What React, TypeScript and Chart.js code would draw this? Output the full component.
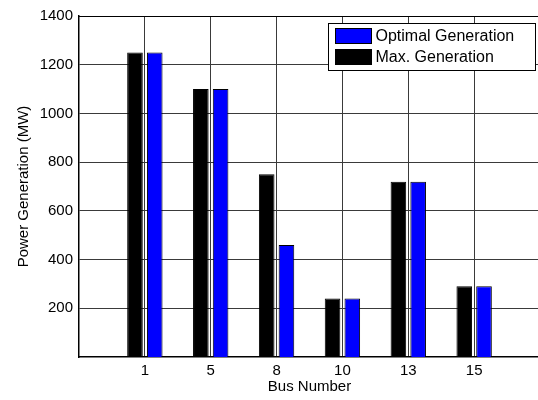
import React, { useEffect, useRef } from "react";
import { Chart, registerables } from "chart.js";

Chart.register(...registerables);

const busLabels = ["1", "5", "8", "10", "13", "15"];
const maxGeneration = [1250, 1100, 750, 240, 720, 290];
const optimalGeneration = [1250, 1100, 460, 240, 720, 290];
const yTickValues = [200, 400, 600, 800, 1000, 1200, 1400];
const yMax = 1400;

const FONT = "'Liberation Sans', Arial, Helvetica, sans-serif";

const boxLegendPlugin = {
  id: "boxLegend",
  afterDraw(chart: any) {
    const { ctx, chartArea } = chart;
    ctx.save();
    // top of the axes box
    ctx.strokeStyle = "#000";
    ctx.lineWidth = 1;
    ctx.beginPath();
    ctx.moveTo(chartArea.left, chartArea.top + 0.5);
    ctx.lineTo(chartArea.right, chartArea.top + 0.5);
    ctx.stroke();

    // legend
    const w = 207;
    const h = 47;
    const x = chartArea.right - 5 - w + 0.5;
    const y = chartArea.top + 7 + 0.5;
    ctx.fillStyle = "#fff";
    ctx.fillRect(x, y, w, h);
    ctx.strokeStyle = "#000";
    ctx.lineWidth = 1;
    ctx.strokeRect(x, y, w, h);
    const items = [chart.data.datasets[1], chart.data.datasets[0]];
    ctx.font = `16px ${FONT}`;
    ctx.textBaseline = "middle";
    ctx.textAlign = "left";
    items.forEach((ds: any, i: number) => {
      const sy = y + 5 + i * 21;
      ctx.fillStyle = ds.backgroundColor;
      ctx.fillRect(x + 7, sy, 36, 15);
      ctx.strokeStyle = "#000";
      ctx.strokeRect(x + 7, sy, 36, 15);
      ctx.fillStyle = "#000";
      ctx.fillText(ds.label, x + 47, sy + 8);
    });
    ctx.restore();
  },
};

export default function App() {
  const ref = useRef<HTMLCanvasElement>(null);
  useEffect(() => {
    if (!ref.current) return;
    const chart = new Chart(ref.current, {
      type: "bar",
      data: {
        datasets: [
          {
            label: "Max. Generation",
            data: maxGeneration.map((v, i) => ({ x: i + 1, y: v })),
            backgroundColor: "#000000",
            borderColor: "#000000",
            borderWidth: 1,
            categoryPercentage: 0.6,
            barPercentage: 0.79,
          },
          {
            label: "Optimal Generation",
            data: optimalGeneration.map((v, i) => ({ x: i + 1, y: v })),
            backgroundColor: "#0000ff",
            borderColor: "#000000",
            borderWidth: 1,
            categoryPercentage: 0.6,
            barPercentage: 0.79,
          },
        ],
      },
      options: {
        animation: false,
        responsive: true,
        maintainAspectRatio: false,
        layout: { padding: { top: 16, left: 0, right: 8, bottom: 0 } },
        plugins: {
          legend: { display: false },
          tooltip: { enabled: false },
        },
        scales: {
          x: {
            type: "linear",
            offset: false,
            min: 0,
            max: busLabels.length + 1,
            afterBuildTicks: (scale: any) => {
              scale.ticks = busLabels.map((_, i) => ({ value: i + 1 }));
            },
            afterFit: (scale: any) => {
              scale.height = 43;
            },
            ticks: {
              autoSkip: false,
              maxRotation: 0,
              color: "#000",
              font: { family: FONT, size: 15 },
              padding: 5,
              callback: (v: any) => busLabels[Number(v) - 1] ?? "",
            },
            grid: { color: "#3a3a3a", lineWidth: 1, drawTicks: false, offset: false },
            border: { color: "#000", width: 1.5 },
            title: {
              display: true,
              text: "Bus Number",
              color: "#000",
              font: { family: FONT, size: 15 },
              padding: { top: 0, bottom: 4 },
            },
          },
          y: {
            min: 0,
            max: yMax,
            afterBuildTicks: (scale: any) => {
              scale.ticks = yTickValues.map((v) => ({ value: v }));
            },
            afterFit: (scale: any) => {
              scale.width = 79;
            },
            ticks: {
              color: "#000",
              font: { family: FONT, size: 15 },
              padding: 6,
              callback: (v: any) => String(v),
            },
            grid: { color: "#3a3a3a", lineWidth: 1, drawTicks: false },
            border: { color: "#000", width: 1.5 },
            title: {
              display: true,
              text: "Power Generation (MW)",
              color: "#000",
              font: { family: FONT, size: 15 },
              padding: { top: 15, bottom: 0 },
            },
          },
        },
      },
      plugins: [boxLegendPlugin],
    });
    return () => chart.destroy();
  }, []);

  return (
    <div
      style={{
        position: "absolute",
        left: 0,
        top: 0,
        width: 538,
        height: 400,
        overflow: "hidden",
        background: "#fff",
      }}
    >
      <div style={{ position: "relative", width: 548, height: 400 }}>
        <canvas ref={ref} />
      </div>
    </div>
  );
}
